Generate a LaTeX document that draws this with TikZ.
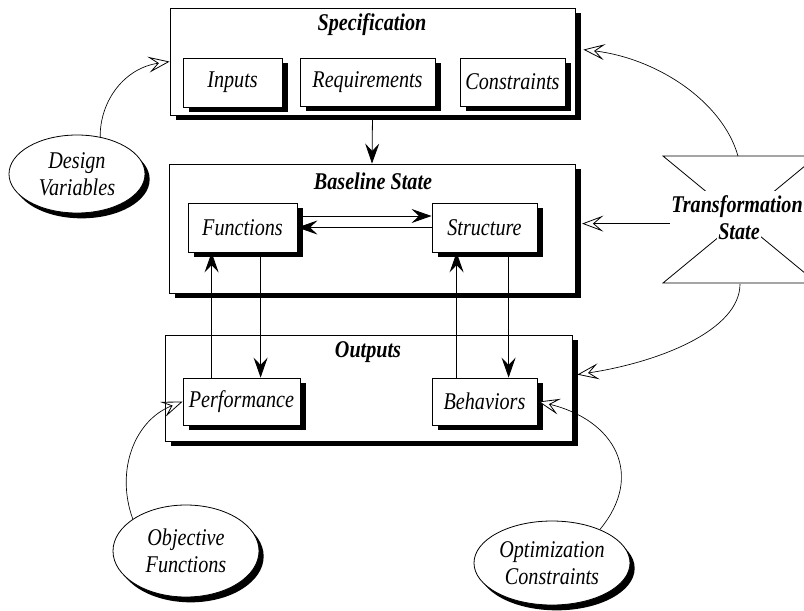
\documentclass[tikz,border=0pt]{standalone}
\usepackage{fontspec}
\setmainfont{Liberation Serif}[FakeStretch=0.84]
\usetikzlibrary{arrows.meta,shadows,calc,shapes.geometric}

\begin{document}
\begin{tikzpicture}[x=0.75pt,y=-0.75pt,
  txt/.style={font=\fontsize{18}{20}\selectfont\itshape},
  ttl/.style={font=\fontsize{18}{20}\selectfont\bfseries\itshape},
  box/.style={draw, line width=0.6pt, fill=white, rectangle, inner sep=0pt, txt,
    drop shadow={shadow xshift=4.5pt, shadow yshift=-4pt, fill=black, opacity=1}},
  oval/.style={draw, ellipse, line width=0.6pt, fill=white, align=center,
    inner sep=0pt, txt,
    drop shadow={shadow xshift=3.5pt, shadow yshift=-4pt, fill=black, opacity=1}},
  link/.style={line width=0.6pt, -{Stealth[length=15pt,width=10.5pt,inset=5.5pt]}},
  feed/.style={line width=0.5pt,
    -{Stealth[open,fill=white,length=16pt,width=12pt,inset=7pt,line width=0.6pt]}},
]
\clip (0,0) rectangle (804,611);

% --- Specification ---
\node[box, minimum width=303.75pt, minimum height=80.25pt] (spec) at (372.5,61.5) {};
\node[ttl] (spectitle) at (372,25) {Specification};
\node[box, minimum width=74.25pt, minimum height=36.75pt] (inputs) at (232.5,82.5) {Inputs};
\node[box, minimum width=101.25pt, minimum height=36pt] (req) at (367.5,82) {Requirements};
\node[box, minimum width=78.75pt, minimum height=36pt] (cons) at (512.5,82) {Constraints};

% --- Baseline state ---
\node[box, minimum width=304.5pt, minimum height=96.75pt] (baseline) at (372,228.5) {};
\node[ttl] (basetitle) at (373,181.5) {Baseline State};
\node[box, minimum width=81.75pt, minimum height=36.75pt] (func) at (242.5,227.5) {Functions};
\node[box, minimum width=78.75pt, minimum height=36.75pt] (struct) at (484.5,227.5) {Structure};

% --- Outputs ---
\node[box, minimum width=305.25pt, minimum height=79.5pt] (outputs) at (368.5,388) {};
\node[ttl] (outtitle) at (368,352) {Outputs};
\node[box, minimum width=87.75pt, minimum height=35.25pt] (perf) at (241.5,401.5) {Performance};
\node[box, minimum width=78.75pt, minimum height=35.25pt] (behav) at (484.5,401.5) {Behaviors};

% --- side ellipses ---
\node[oval, minimum width=102pt, minimum height=58.5pt] (design) at (77,174) {Design\\Variables};
\node[oval, minimum width=109.5pt, minimum height=69pt] (obj) at (186,551) {Objective\\Functions};
\node[oval, minimum width=117pt, minimum height=63pt] (opt) at (552,563) {Optimization\\Constraints};

% --- transformation hourglass ---
\draw[line width=0.6pt] (663,156) -- (817,156) -- (663,283) -- (817,283) -- cycle;
\coordinate (hgtop) at (738,156);
\coordinate (hgbot) at (740,284);
\node[ttl, fill=white, inner xsep=1pt, inner ysep=4pt] (trans) at (737,207) {Transformation};
\node[ttl, fill=white, inner xsep=1pt, inner ysep=4pt] (transb) at (739,231.5) {State};

% --- main flow ---
\draw[link] (spec.south) -- (baseline.north);
\draw[link] ($(func.east)+(0,-11.5)$) -- ($(struct.west)+(0,-11.5)$);
\draw[link] (struct.west) -- (func.east);
\draw[link] ($(perf.north west)+(29,0)$) -- ($(func.south west)+(24,0)$);
\draw[link] ($(func.south west)+(73,0)$) -- ($(perf.north west)+(78,0)$);
\draw[link] ($(behav.north west)+(25,0)$) -- ($(struct.south west)+(25,0)$);
\draw[link] ($(struct.south west)+(77,0)$) -- ($(behav.north west)+(77,0)$);

% --- feedback arrows ---
\draw[feed] (trans.south west) -- ([xshift=5pt]trans.south west -| baseline.east);
\draw[feed] (hgtop) .. controls (722,100) and (655,58) .. ($(spec.north east)+(8,42)$);
\draw[feed] (hgbot) .. controls (740,330) and (660,362) .. ($(outputs.north east)+(5,40)$);
\draw[feed] (design.58) .. controls (100,100) and (125,68) .. ($(spec.north west)+(0,54)$);
\draw[feed] (obj.149) .. controls (115,470) and (135,420) .. ($(perf.north west)+(0,24)$);
\draw[feed] (opt.35) .. controls (645,475) and (615,420) .. ($(behav.north east)+(1,24)$);
\end{tikzpicture}
\end{document}
